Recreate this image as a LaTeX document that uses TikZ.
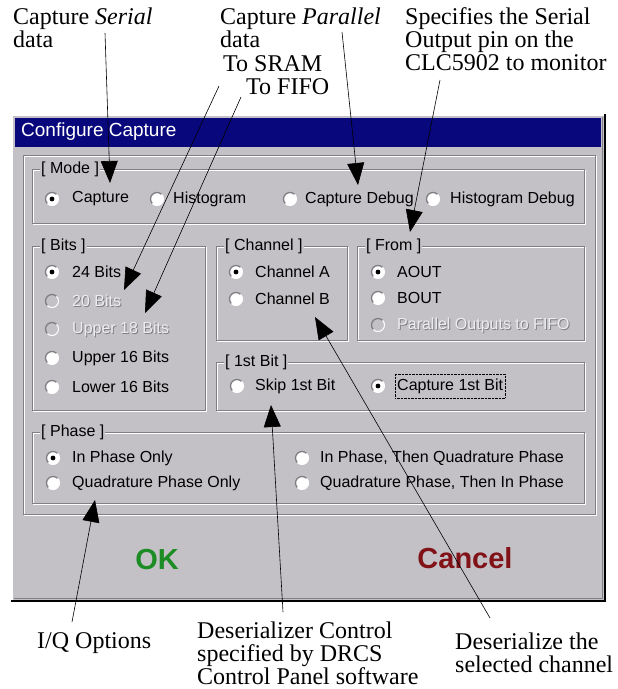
\documentclass[tikz,border=0pt]{standalone}
\usepackage{fontspec}
\setmainfont{Liberation Serif}
\newfontfamily\uifont{Liberation Sans}
\usepackage{tikz}
\usetikzlibrary{arrows.meta}

\definecolor{dlggray}{RGB}{196,193,198}
\definecolor{titlenavy}{RGB}{8,8,124}
\definecolor{etchdark}{RGB}{128,127,132}
\definecolor{okgreen}{RGB}{28,140,36}
\definecolor{cancelred}{RGB}{128,18,24}
\definecolor{dimtext}{RGB}{236,236,238}

\tikzset{
  note/.style={font=\fontsize{24}{23}\selectfont, inner sep=0, align=left},
  ui/.style={font=\uifont\fontsize{16}{18}\selectfont, inner sep=0, anchor=west},
  uidim/.style={ui, text=dimtext},
  grouplbl/.style={font=\uifont\fontsize{16}{18}\selectfont, inner sep=1pt, fill=dlggray, anchor=west},
  btntext/.style={font=\uifont\bfseries\fontsize{29}{30}\selectfont, inner sep=0},
  callout/.style={line width=0.6pt, -{Triangle[length=22pt,width=17pt]}},
}

% etched group frame: x1,y1,x2,y2
\newcommand\etchbox[4]{%
  \draw[white, line width=1pt] (#1+1,#2+1) rectangle (#3+1,#4+1);
  \draw[etchdark, line width=1pt] (#1,#2) rectangle (#3,#4);}

% radio button: x, y, state (0 off, 1 on, 2 disabled)
\newcommand\radiobtn[3]{%
  \ifnum#3=2 \fill[dlggray] (#1,#2) circle (6.5);\else \fill[white] (#1,#2) circle (6.5);\fi
  \draw[etchdark, line width=1.3pt] ([shift={(135:6.5)}]#1,#2) arc[start angle=135, end angle=315, radius=6.5];
  \draw[white, line width=1pt] ([shift={(-45:6.5)}]#1,#2) arc[start angle=-45, end angle=135, radius=6.5];
  \ifnum#3=1 \fill[black] (#1,#2) circle (2.4);\fi}

% disabled label with embossed shadow
\newcommand\dimlabel[4]{%
  \node[ui, text=etchdark] at (#2+1,#3+1) {#4};
  \node[uidim] (#1) at (#2,#3) {#4};}

\begin{document}
\begin{tikzpicture}[x=1pt, y=-1pt]
\useasboundingbox[fill=white] (0,0) rectangle (618,689);

% dialog window
\fill[dlggray] (11,114) rectangle (605,601);
\draw[white, line width=1.2pt] (12,600) -- (12,115) -- (604,115);
\draw[etchdark, line width=1pt] (14,598) -- (602,598) -- (602,117);
\draw[black, line width=2pt] (11,601) -- (605,601) -- (605,114);
\fill[titlenavy] (15,118) rectangle (601,147);
\node[font=\uifont\fontsize{19}{21}\selectfont, text=white, anchor=west, inner sep=0] (title) at (21,132) {Configure Capture};
\etchbox{23}{155}{595}{514}

% mode
\etchbox{32}{169}{584}{223}
\node[grouplbl] (gMode) at (40,169) {[ Mode ]};
\radiobtn{52}{199}{1}  \node[ui] (mCapture) at (72,199) {Capture};
\radiobtn{157}{199}{0} \node[ui] (mHisto) at (173,199) {Histogram};
\radiobtn{290}{199}{0} \node[ui] (mCapDbg) at (305,199) {Capture Debug};
\radiobtn{433}{199}{0} \node[ui] (mHistoDbg) at (450,199) {Histogram Debug};

% bits
\etchbox{32}{246}{205}{410}
\node[grouplbl] (gBits) at (40,246) {[ Bits ]};
\radiobtn{52}{272}{1} \node[ui] (b24) at (72,272) {24 Bits};
\radiobtn{52}{301}{2} \dimlabel{b20}{72}{301}{20 Bits}
\radiobtn{52}{329}{2} \dimlabel{b18}{72}{329}{Upper 18 Bits}
\radiobtn{52}{358}{0} \node[ui] (b16u) at (72,358) {Upper 16 Bits};
\radiobtn{52}{387}{0} \node[ui] (b16l) at (72,387) {Lower 16 Bits};

% channel
\etchbox{216}{246}{347}{340}
\node[grouplbl] (gChan) at (224,246) {[ Channel ]};
\radiobtn{236}{272}{1} \node[ui] (cA) at (255,272) {Channel A};
\radiobtn{236}{299}{0} \node[ui] (cB) at (255,299) {Channel B};

% from
\etchbox{357}{246}{584}{340}
\node[grouplbl] (gFrom) at (365,246) {[ From ]};
\radiobtn{378}{272}{1} \node[ui] (fA) at (397,272) {AOUT};
\radiobtn{378}{298}{0} \node[ui] (fB) at (397,298) {BOUT};
\radiobtn{378}{325}{2} \dimlabel{fP}{397}{325}{Parallel Outputs to FIFO}

% first bit
\etchbox{216}{362}{584}{410}
\node[grouplbl] (gFirst) at (224,362) {[ 1st Bit ]};
\radiobtn{237}{386}{0} \node[ui] (kSkip) at (255,386) {Skip 1st Bit};
\radiobtn{378}{386}{1}
\node[ui, draw, densely dotted, inner xsep=2pt, minimum height=24pt] (kCap) at (395,386) {Capture 1st Bit};

% phase
\etchbox{32}{432}{584}{503}
\node[grouplbl] (gPhase) at (40,432) {[ Phase ]};
\radiobtn{53}{458}{1}  \node[ui] (pIn) at (72,458) {In Phase Only};
\radiobtn{53}{483}{0}  \node[ui] (pQuad) at (72,483) {Quadrature Phase Only};
\radiobtn{302}{458}{0} \node[ui] (pInQ) at (320,458) {In Phase, Then Quadrature Phase};
\radiobtn{302}{483}{0} \node[ui] (pQIn) at (320,483) {Quadrature Phase, Then In Phase};

% buttons
\node[btntext, text=okgreen] (ok) at (157,560) {OK};
\node[btntext, text=cancelred] (cancel) at (465,558) {Cancel};

% notes
\node[note, anchor=north west] (nSerial) at (13,8) {Capture \textit{Serial}\\data};
\node[note, anchor=north west] (nParallel) at (220,8) {Capture \textit{Parallel}\\data};
\node[note, anchor=base west] (nSram) at (223,71) {To SRAM};
\node[note, anchor=base west] (nFifo) at (246,94) {To FIFO};
\node[note, anchor=north west] (nSpec) at (405,7) {Specifies the Serial\\Output pin on the\\CLC5902 to monitor};
\node[note, anchor=base west] (nIQ) at (37,648) {I/Q Options};
\node[note, anchor=north west] (nDeser) at (197,622) {Deserializer Control\\specified by DRCS\\Control Panel software};
\node[note, anchor=north west] (nDesChan) at (455,633) {Deserialize the\\selected channel};

% callout ends
\coordinate (sSerial) at (105,33);   \coordinate (tSerial) at (110,183);
\coordinate (sParallel) at (342,32); \coordinate (tParallel) at (358,185);
\coordinate (sSram) at (219,86);     \coordinate (tSram) at (124,290);
\coordinate (sFifo) at (241,97);     \coordinate (tFifo) at (145,313);
\coordinate (sSpec) at (440,80);     \coordinate (tSpec) at (410,232);
\coordinate (sIQ) at (72,622);       \coordinate (tIQ) at (95,500);
\coordinate (sDeser) at (283,612);   \coordinate (tDeser) at (271,405);
\coordinate (sChan) at (490,618);    \coordinate (tChan) at (315,317);

\draw[callout] (sSerial) -- (tSerial);
\draw[callout] (sParallel) -- (tParallel);
\draw[callout] (sSram) -- (tSram);
\draw[callout] (sFifo) -- (tFifo);
\draw[callout] (sSpec) -- (tSpec);
\draw[callout] (sIQ) -- (tIQ);
\draw[callout] (sDeser) -- (tDeser);
\draw[callout] (sChan) -- (tChan);
\end{tikzpicture}
\end{document}
